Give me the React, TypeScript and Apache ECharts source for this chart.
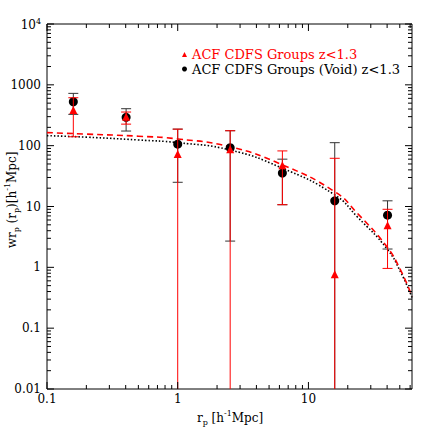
import React, { useEffect, useRef } from 'react';
import * as echarts from 'echarts';

const X_MIN = 0.1;
const X_MAX = 62;
const Y_MIN = 0.01;
const Y_MAX = 10000;

const GROUP_NAME = 'ACF CDFS Groups z<1.3';
const VOID_NAME = 'ACF CDFS Groups (Void) z<1.3';

// projected separation r_p
const rp = [0.159, 0.403, 1.0, 2.52, 6.32, 15.9, 40.3];
// Void sample (black circles)
const voidW = [527, 292, 106, 92.5, 35.4, 12.4, 7.2];
const voidHi = [724, 405, 187, 176, 60, 112, 12.4];
const voidLo = [327, 174, 25, 2.7, 10.7, 0.01, 2.0];
// Groups sample (red triangles)
const groupW = [385, 298, 73, 87, 47.5, 0.77, 4.9];
const groupHi = [614, 357, 187, 176, 82, 62, 9.0];
const groupLo = [140, 226, 0.01, 0.01, 10.7, 0.01, 0.96];

// model fits
const fitX = [0.1, 0.2, 0.5, 1, 2.5, 6.1, 15.9, 23.6, 40, 50.7, 62];
const fitGroups = [164, 155, 143, 129, 96, 50, 17.5, 7.8, 2.15, 0.9, 0.336];
const fitVoid = [146, 138, 124, 112, 85, 44, 15.5, 6.8, 2.0, 0.84, 0.32];

// axis ticks
const xMajorTicks = [0.1, 1, 10];
const xTickLabels = ['0.1', '1', '10'];
const yMajorTicks = [0.01, 0.1, 1, 10, 100, 1000, 10000];
const yTickLabels = ['0.01', '0.1', '1', '10', '100', '1000', '{b|10}{s|4}'];
const minorMult = [2, 3, 4, 5, 6, 7, 8, 9];

const minorTicks = (decades: number[], lo: number, hi: number) => {
  const out: number[] = [];
  decades.forEach((d) => minorMult.forEach((m) => {
    const v = d * m;
    if (v > lo && v < hi) out.push(v);
  }));
  return out;
};
const xMinorTicks = minorTicks([0.1, 1, 10], X_MIN, X_MAX);
const yMinorTicks = minorTicks([0.01, 0.1, 1, 10, 100, 1000], Y_MIN, Y_MAX);

const FONT = '"DejaVu Serif", serif';
const FRAME = '#000';

export default function App() {
  const ref = useRef<HTMLDivElement>(null);

  useEffect(() => {
    const chart = echarts.init(ref.current!, null, { renderer: 'svg' });

    const xTickRender = (len: number) => (params: any, api: any) => {
      const v = api.value(0);
      const b = api.coord([v, Y_MIN]);
      const t = api.coord([v, Y_MAX]);
      return {
        type: 'group',
        children: [
          { type: 'line', shape: { x1: b[0], y1: b[1], x2: b[0], y2: b[1] - len }, style: { stroke: FRAME, lineWidth: 1 } },
          { type: 'line', shape: { x1: t[0], y1: t[1], x2: t[0], y2: t[1] + len }, style: { stroke: FRAME, lineWidth: 1 } },
        ],
      };
    };
    const yTickRender = (len: number) => (params: any, api: any) => {
      const v = api.value(1);
      const l = api.coord([X_MIN, v]);
      const r = api.coord([X_MAX, v]);
      return {
        type: 'group',
        children: [
          { type: 'line', shape: { x1: l[0], y1: l[1], x2: l[0] + len, y2: l[1] }, style: { stroke: FRAME, lineWidth: 1 } },
          { type: 'line', shape: { x1: r[0], y1: r[1], x2: r[0] - len, y2: r[1] }, style: { stroke: FRAME, lineWidth: 1 } },
        ],
      };
    };
    const xLabelRender = (params: any, api: any) => {
      const p = api.coord([api.value(0), Y_MIN]);
      return {
        type: 'text',
        x: p[0],
        y: p[1] + 4,
        style: { text: xTickLabels[params.dataIndex], fill: '#000', font: `12px ${FONT}`, align: 'center', verticalAlign: 'top' },
      };
    };
    const yLabelRender = (params: any, api: any) => {
      const p = api.coord([X_MIN, api.value(1)]);
      return {
        type: 'text',
        x: p[0] - 6,
        y: p[1],
        style: {
          text: yTickLabels[params.dataIndex],
          fill: '#000',
          font: `12px ${FONT}`,
          align: 'right',
          verticalAlign: 'middle',
          rich: {
            b: { fontSize: 12, fontFamily: FONT, lineHeight: 14, verticalAlign: 'bottom' },
            s: { fontSize: 8, fontFamily: FONT, lineHeight: 8, verticalAlign: 'top' },
          },
        },
      };
    };
    const errRender = (color: string) => (params: any, api: any) => {
      const x = api.value(0);
      const lo = api.value(1);
      const hi = api.value(2);
      const pHi = api.coord([x, hi]);
      const pLo = api.coord([x, lo]);
      const cap = 5;
      const st = { stroke: color, lineWidth: 1 };
      const children: any[] = [
        { type: 'line', shape: { x1: pHi[0], y1: pHi[1], x2: pLo[0], y2: pLo[1] }, style: st },
        { type: 'line', shape: { x1: pHi[0] - cap, y1: pHi[1], x2: pHi[0] + cap, y2: pHi[1] }, style: st },
      ];
      if (lo > Y_MIN) {
        children.push({ type: 'line', shape: { x1: pLo[0] - cap, y1: pLo[1], x2: pLo[0] + cap, y2: pLo[1] }, style: st });
      }
      return { type: 'group', children };
    };

    const subStyle = { fontSize: 8, fontFamily: FONT, lineHeight: 8, verticalAlign: 'bottom', fill: '#000' };
    const supStyle = { fontSize: 8, fontFamily: FONT, lineHeight: 8, verticalAlign: 'top', fill: '#000' };
    const mainStyle = { fontSize: 12, fontFamily: FONT, lineHeight: 17, fill: '#000' };

    chart.setOption({
      animation: false,
      backgroundColor: '#fff',
      grid: { left: 47, right: 24, top: 24, bottom: 47, show: true, borderColor: FRAME, borderWidth: 1, backgroundColor: 'transparent' },
      xAxis: {
        type: 'log', logBase: 10, min: X_MIN, max: X_MAX,
        axisLine: { show: false }, axisTick: { show: false }, axisLabel: { show: false }, splitLine: { show: false },
      },
      yAxis: {
        type: 'log', logBase: 10, min: Y_MIN, max: Y_MAX,
        axisLine: { show: false }, axisTick: { show: false }, axisLabel: { show: false }, splitLine: { show: false },
      },
      legend: {
        orient: 'vertical', left: 177, top: 43, itemGap: 1.5, itemWidth: 5, itemHeight: 5,
        selectedMode: false,
        textStyle: { fontFamily: FONT, fontSize: 13 },
        data: [
          { name: GROUP_NAME, textStyle: { color: '#f00' } },
          { name: VOID_NAME, textStyle: { color: '#000' } },
        ],
      },
      graphic: [
        {
          type: 'text', x: 230, y: 418,
          style: {
            text: '{n|r}{sub|p}{n| [h}{sup|-1}{n|Mpc]}',
            align: 'center', verticalAlign: 'middle',
            rich: { n: mainStyle, sub: subStyle, sup: supStyle },
          },
        },
        {
          type: 'text', x: 12, y: 200, rotation: Math.PI / 2,
          style: {
            text: '{n|wr}{sub|p}{n| (r}{sub|p}{n|)[h}{sup|-1}{n|Mpc]}',
            align: 'center', verticalAlign: 'middle',
            rich: { n: mainStyle, sub: subStyle, sup: supStyle },
          },
        },
      ],
      series: [
        {
          type: 'line', data: fitX.map((x, i) => [x, fitVoid[i]]), smooth: true, showSymbol: false, silent: true, z: 2,
          lineStyle: { color: '#000', width: 1.6, type: [1.5, 2] },
        },
        {
          type: 'line', data: fitX.map((x, i) => [x, fitGroups[i]]), smooth: true, showSymbol: false, silent: true, z: 2,
          lineStyle: { color: '#f00', width: 1.6, type: [6, 4] },
        },
        {
          type: 'custom', renderItem: errRender('#333'), silent: true, z: 3, clip: true,
          data: rp.map((x, i) => [x, voidLo[i], voidHi[i]]),
        },
        {
          name: VOID_NAME, type: 'scatter', symbol: 'circle', symbolSize: 9, z: 4,
          itemStyle: { color: '#000', opacity: 1 },
          data: rp.map((x, i) => [x, voidW[i]]),
        },
        {
          type: 'custom', renderItem: errRender('#f00'), silent: true, z: 5, clip: true,
          data: rp.map((x, i) => [x, groupLo[i], groupHi[i]]),
        },
        {
          name: GROUP_NAME, type: 'scatter', symbol: 'triangle', symbolSize: 8, z: 6,
          itemStyle: { color: '#f00', opacity: 1 },
          data: rp.map((x, i) => [x, groupW[i]]),
        },
        { type: 'custom', renderItem: xTickRender(7), silent: true, z: 10, data: xMajorTicks.map((v) => [v, Y_MIN]) },
        { type: 'custom', renderItem: xTickRender(4), silent: true, z: 10, data: xMinorTicks.map((v) => [v, Y_MIN]) },
        { type: 'custom', renderItem: yTickRender(7), silent: true, z: 10, data: yMajorTicks.map((v) => [X_MIN, v]) },
        { type: 'custom', renderItem: yTickRender(4), silent: true, z: 10, data: yMinorTicks.map((v) => [X_MIN, v]) },
        { type: 'custom', renderItem: xLabelRender, silent: true, z: 10, data: xMajorTicks.map((v) => [v, Y_MIN]) },
        { type: 'custom', renderItem: yLabelRender, silent: true, z: 10, data: yMajorTicks.map((v) => [X_MIN, v]) },
      ],
    });

    return () => chart.dispose();
  }, []);

  return <div ref={ref} style={{ position: 'fixed', left: 0, top: 0, width: 436, height: 436, background: '#fff' }} />;
}
